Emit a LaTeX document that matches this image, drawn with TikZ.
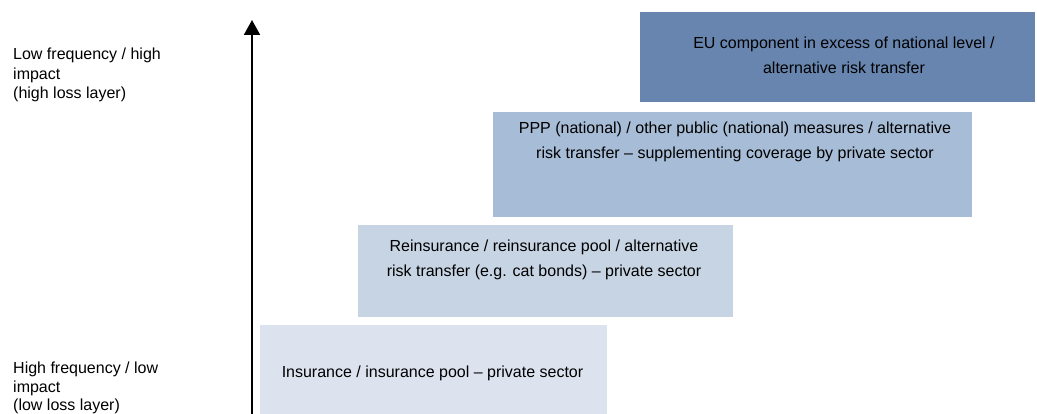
\documentclass[tikz,border=0pt]{standalone}
\usepackage{fontspec}
\setmainfont{Liberation Sans}
\usetikzlibrary{arrows.meta}
\definecolor{insfill}{HTML}{DCE3EE}
\definecolor{reinsfill}{HTML}{C7D4E3}
\definecolor{pppfill}{HTML}{A7BCD6}
\definecolor{eufill}{HTML}{6785AE}
\begin{document}
\begin{tikzpicture}[x=1pt, y=1pt,
    layer/.style={rectangle, inner sep=0pt, draw=none},
    layertext/.style={align=center, inner sep=0pt, font=\fontsize{16}{25}\selectfont},
    sidetext/.style={anchor=north west, align=left, inner sep=0pt, font=\fontsize{16}{19.5}\selectfont}]
  \useasboundingbox (0,0) rectangle (1037,414);

  % loss layers, lowest first
  \node[layer, fill=insfill, minimum width=347pt, minimum height=99pt] (ins) at (433.5,39.5) {};
  \node[layer, fill=reinsfill, minimum width=375pt, minimum height=92pt] (reins) at (545.5,143) {};
  \node[layer, fill=pppfill, minimum width=479pt, minimum height=105pt] (ppp) at (732.5,249.5) {};
  \node[layer, fill=eufill, minimum width=395pt, minimum height=90pt] (eu) at (837.5,357) {};

  \node[layertext] (instext) at (432.5,41) {Insurance / insurance pool -- private sector};
  \node[layertext] (reinstext) at (544,154) {Reinsurance / reinsurance pool / alternative\\risk transfer (e.g. cat bonds) -- private sector};
  \node[layertext] (ppptext) at (735,272.5) {PPP (national) / other public (national) measures / alternative\\risk transfer -- supplementing coverage by private sector};
  \node[layertext] (eutext) at (844,359) {EU component in excess of national level /\\alternative risk transfer};

  % axis
  \coordinate (axisbase) at (252,-5);
  \coordinate (axistop) at (252,394);
  \draw[-{Triangle[length=15pt,width=16pt]}, line width=2pt] (axisbase) -- (axistop);

  \node[sidetext] (hightext) at (13,366) {Low frequency / high\\impact\\(high loss layer)};
  \node[sidetext, font=\fontsize{16}{18.5}\selectfont] (lowtext) at (13,52) {High frequency / low\\impact\\(low loss layer)};
\end{tikzpicture}
\end{document}
